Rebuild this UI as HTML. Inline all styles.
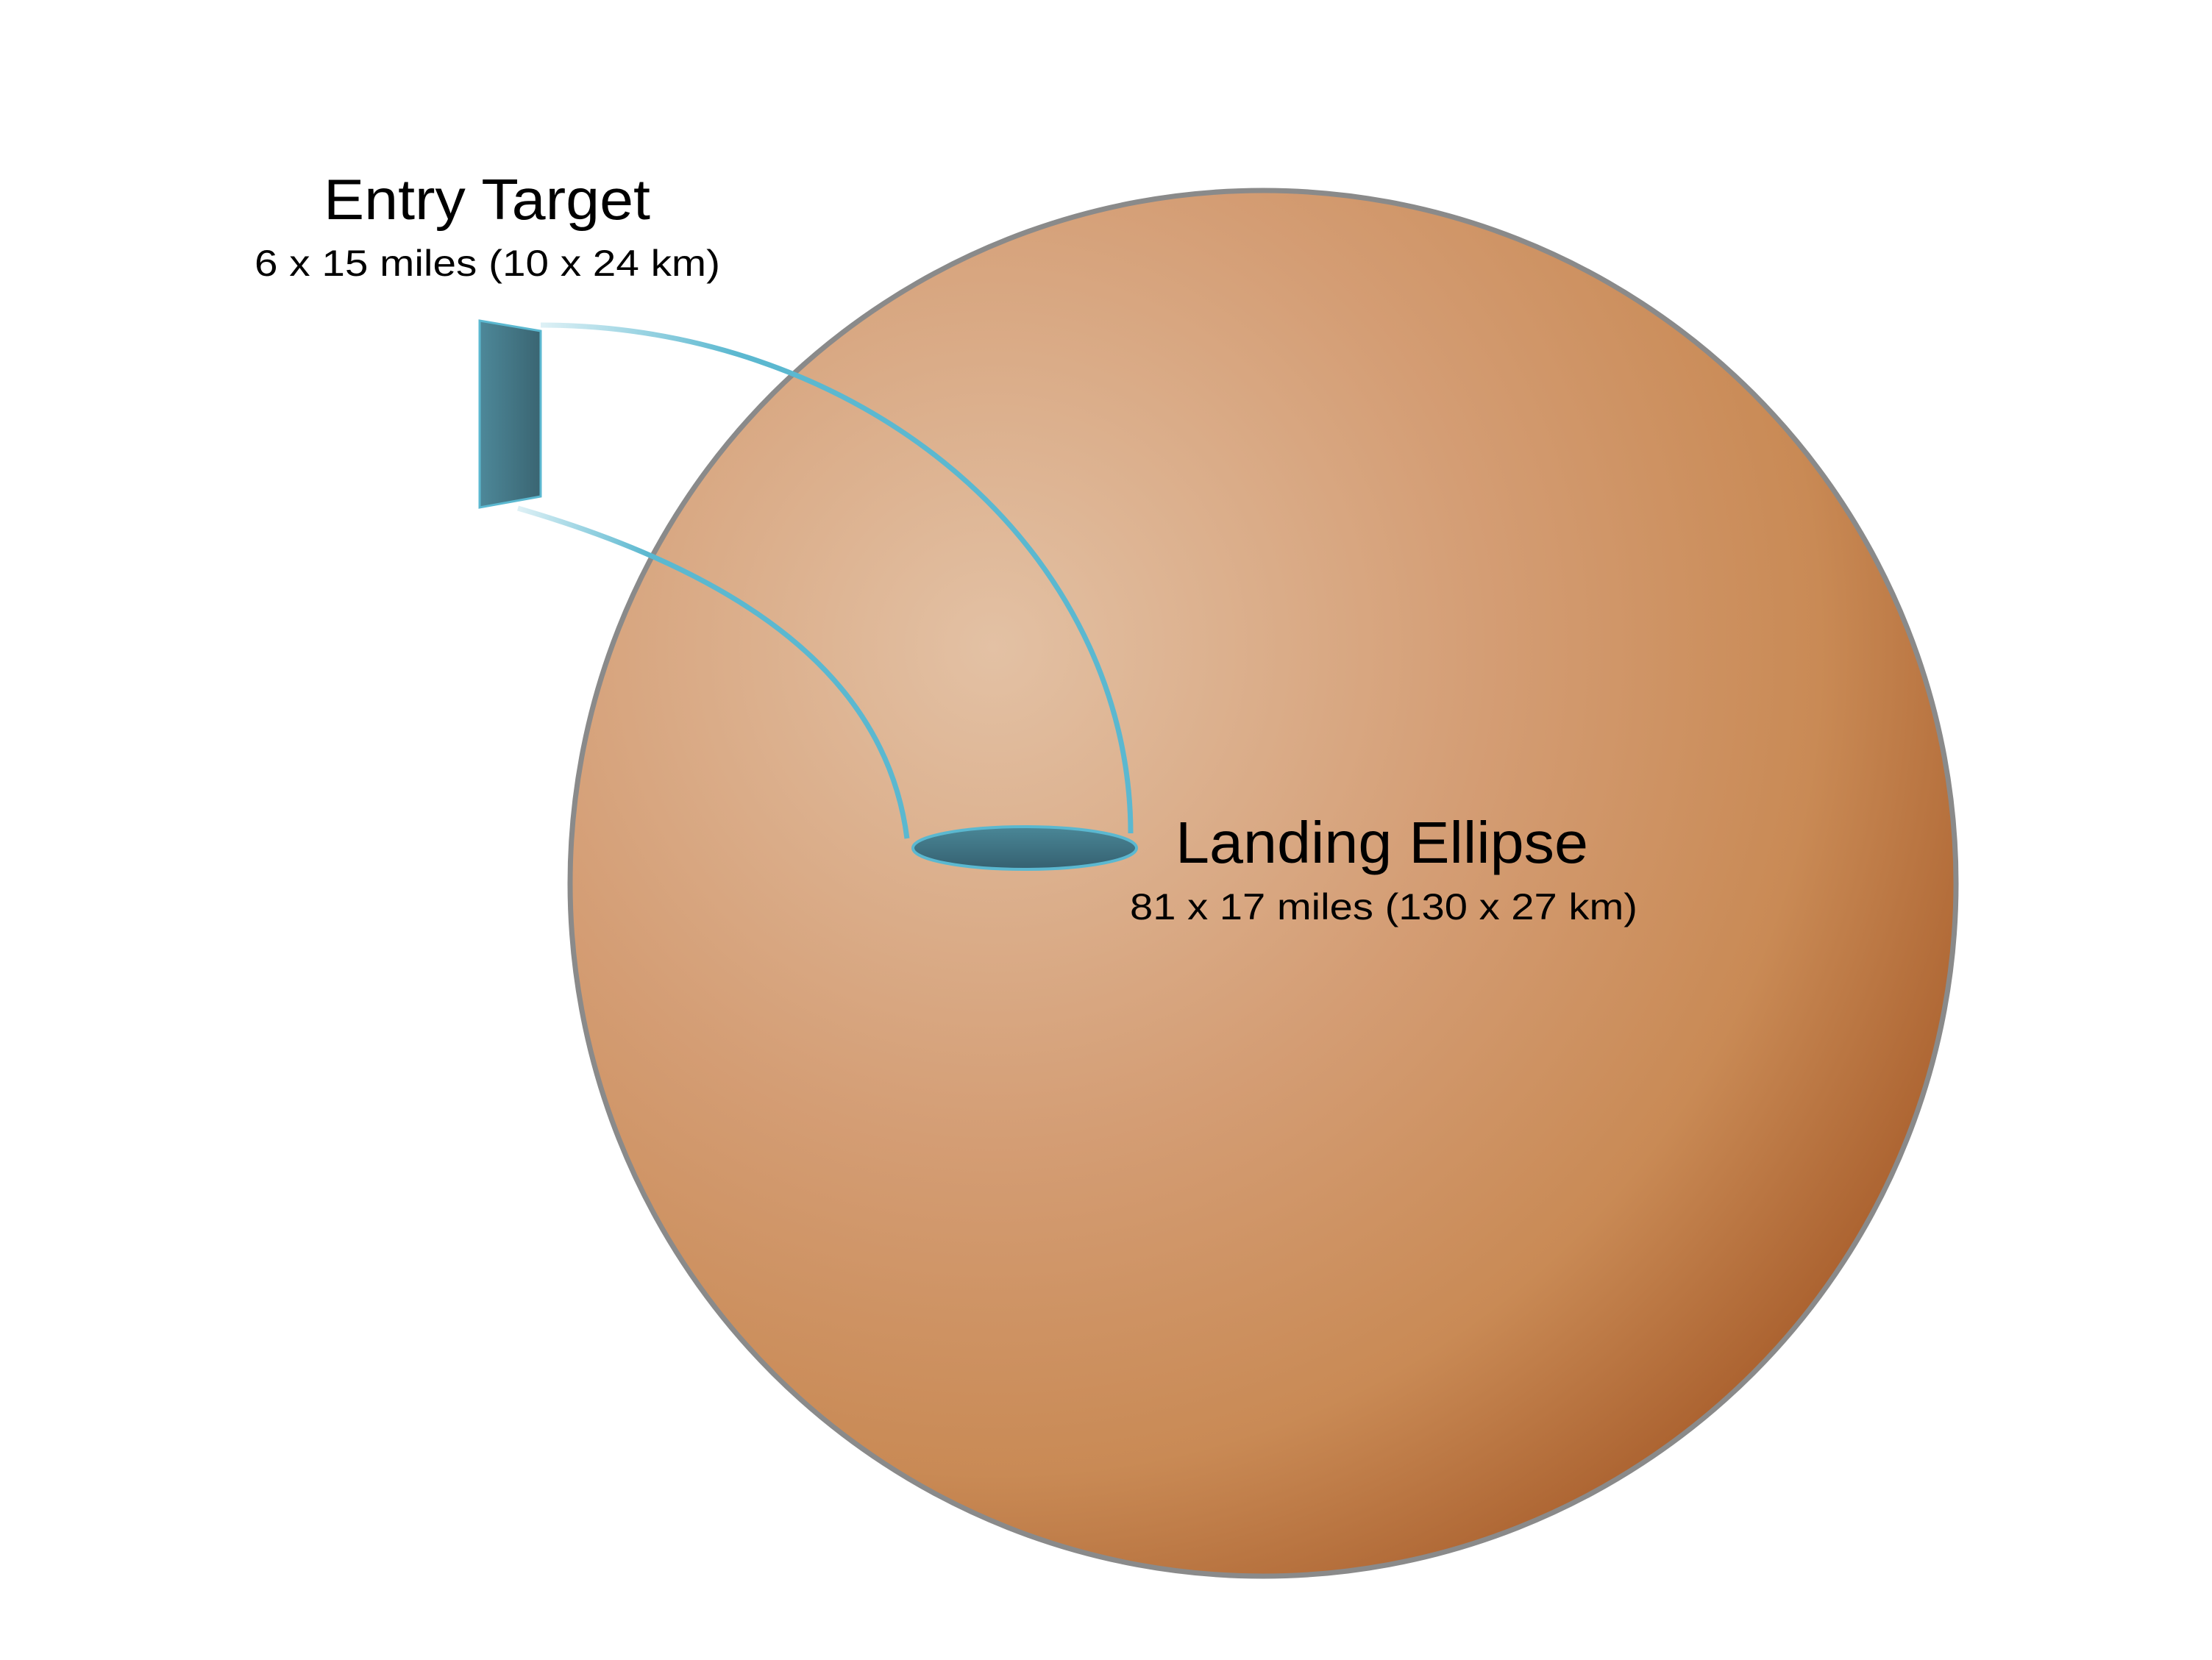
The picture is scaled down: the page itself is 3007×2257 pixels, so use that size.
<!DOCTYPE html>
<html><head><meta charset="utf-8"><style>html,body{margin:0;padding:0;background:#fff}svg{display:block}</style></head>
<body>
<svg width="3007" height="2257" viewBox="0 0 3007 2257" xmlns="http://www.w3.org/2000/svg">
<defs>
<radialGradient id="g" cx="1350" cy="880" r="1500" gradientUnits="userSpaceOnUse">
<stop offset="0" stop-color="#e3c1a4"/>
<stop offset="0.45" stop-color="#d49d74"/>
<stop offset="0.75" stop-color="#c98a55"/>
<stop offset="1" stop-color="#a55a28"/>
</radialGradient>
<linearGradient id="rg" x1="0" y1="0" x2="1" y2="0">
<stop offset="0" stop-color="#4d8899"/><stop offset="1" stop-color="#3a6572"/>
</linearGradient>
<linearGradient id="eg" x1="0" y1="0" x2="0" y2="1">
<stop offset="0" stop-color="#4a8797"/><stop offset="1" stop-color="#356070"/>
</linearGradient>
<linearGradient id="a1" x1="735" y1="0" x2="1000" y2="0" gradientUnits="userSpaceOnUse">
<stop offset="0" stop-color="#5bb8d0" stop-opacity="0.2"/><stop offset="1" stop-color="#5bb8d0"/>
</linearGradient>
<linearGradient id="a2" x1="704" y1="0" x2="880" y2="0" gradientUnits="userSpaceOnUse">
<stop offset="0" stop-color="#5bb8d0" stop-opacity="0.2"/><stop offset="1" stop-color="#5bb8d0"/>
</linearGradient>
</defs>
<circle cx="1717" cy="1201" r="942" fill="url(#g)" stroke="#8a8a8a" stroke-width="7"/>
<path d="M735 442 A802 691 0 0 1 1537 1133" fill="none" stroke="url(#a1)" stroke-width="7"/>
<path d="M704 691 C 1010 780, 1205 920, 1233 1140" fill="none" stroke="url(#a2)" stroke-width="7"/>
<polygon points="652,436 735,450 735,675 652,690" fill="url(#rg)" stroke="#5bb8d0" stroke-width="3"/>
<ellipse cx="1393" cy="1153" rx="152" ry="29" fill="url(#eg)" stroke="#5bb8d0" stroke-width="4"/>
<g font-family="'Liberation Sans', sans-serif" fill="#000">
<text x="440" y="298" font-size="78" textLength="444" lengthAdjust="spacingAndGlyphs">Entry Target</text>
<text x="346" y="375" font-size="50" textLength="633" lengthAdjust="spacingAndGlyphs">6 x 15 miles (10 x 24 km)</text>
<text x="1598" y="1173" font-size="80" textLength="561" lengthAdjust="spacingAndGlyphs">Landing Ellipse</text>
<text x="1536" y="1250" font-size="50" textLength="690" lengthAdjust="spacingAndGlyphs">81 x 17 miles (130 x 27 km)</text>
</g>
</svg>
</body></html>
